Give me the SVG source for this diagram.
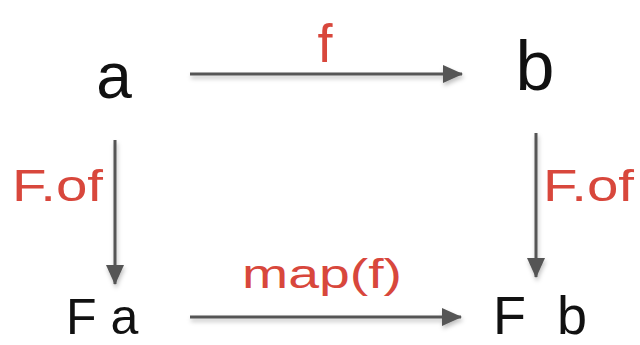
<svg xmlns="http://www.w3.org/2000/svg" width="640" height="345" viewBox="0 0 640 345">
<style>
.node{font-family:"Liberation Sans","DejaVu Sans",sans-serif;fill:#111;}
.lbl{font-family:"Liberation Sans","DejaVu Sans",sans-serif;fill:#d8473c;}
.edge{stroke:#555;stroke-width:3;fill:none;filter:url(#sh);}
</style>
<defs>
<marker id="ah" markerUnits="userSpaceOnUse" markerWidth="20" markerHeight="18" refX="19" refY="9" orient="auto">
<path d="M0,0 L20,9 L0,18 Z" fill="#555"/>
</marker>
<filter id="sh" filterUnits="userSpaceOnUse" x="0" y="0" width="640" height="345">
<feDropShadow dx="1" dy="3" stdDeviation="2" flood-color="#000" flood-opacity="0.25"/>
</filter>
</defs>
<rect width="640" height="345" fill="#fff"/>
<g id="connectors">
<line class="edge" x1="190" y1="74" x2="462" y2="74" marker-end="url(#ah)"/>
<line class="edge" x1="115" y1="140" x2="115" y2="284" marker-end="url(#ah)"/>
<line class="edge" x1="536" y1="133" x2="536" y2="277" marker-end="url(#ah)"/>
<line class="edge" x1="190" y1="317" x2="461" y2="317" marker-end="url(#ah)"/>
<text class="lbl" x="325" y="62" font-size="54" text-anchor="middle">f</text>
<text class="lbl" x="12" y="201" font-size="44" textLength="91" lengthAdjust="spacingAndGlyphs">F.of</text>
<text class="lbl" x="543" y="201" font-size="44" textLength="91" lengthAdjust="spacingAndGlyphs">F.of</text>
<text class="lbl" x="242" y="288" font-size="40" textLength="160" lengthAdjust="spacingAndGlyphs">map(f)</text>
</g>
<g id="node-a"><text class="node" x="114" y="98" font-size="64" text-anchor="middle">a</text></g>
<g id="node-b"><text class="node" x="535" y="90" font-size="70" text-anchor="middle">b</text></g>
<g id="node-Fa"><text class="node" x="66" y="334" font-size="50">F a</text></g>
<g id="node-Fb"><text class="node" x="493" y="334" font-size="54" textLength="94" lengthAdjust="spacing">F b</text></g>
</svg>
